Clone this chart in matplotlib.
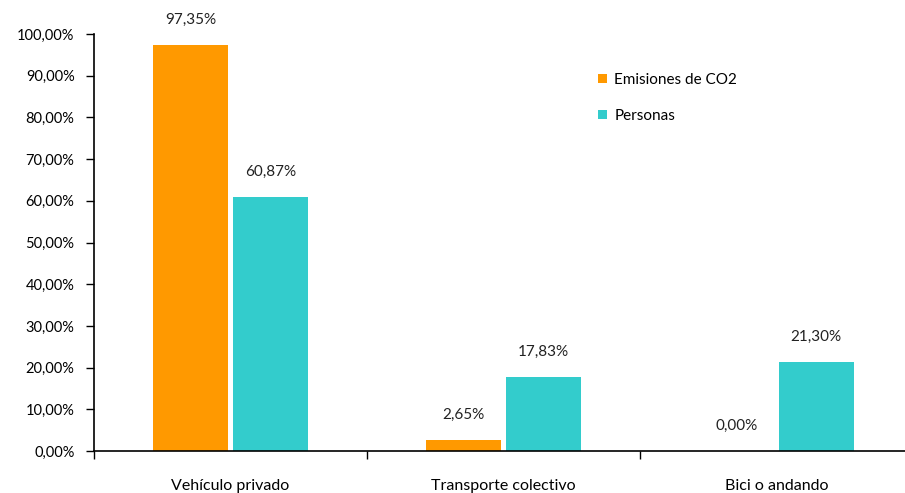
import matplotlib.pyplot as plt
import numpy as np

# data
categories = ["Vehículo privado", "Transporte colectivo", "Bici o andando"]
emisiones = [97.35, 2.65, 0.00]
personas = [60.87, 17.83, 21.30]
y_ticks = [0, 10, 20, 30, 40, 50, 60, 70, 80, 90, 100]

orange = "#FF9900"
teal = "#33CCCC"

plt.rcParams["font.family"] = ["Lato", "DejaVu Sans"]

fig = plt.figure(figsize=(9.05, 4.93), dpi=100)
ax = fig.add_axes([94 / 905, 42 / 493, 819 / 905, 417 / 493])

x = np.arange(len(categories))
w = 0.275
gap = 0.008

b1 = ax.bar(x - w / 2 - gap, emisiones, w, color=orange, label="Emisiones de CO2")
b2 = ax.bar(x + w / 2 + gap, personas, w, color=teal, label="Personas")


def fmt(v):
    return f"{v:.2f}".replace(".", ",") + "%"


for bars, vals in [(b1, emisiones), (b2, personas)]:
    for b, v in zip(bars, vals):
        ax.annotate(fmt(v), (b.get_x() + b.get_width() / 2, v),
                    xytext=(0, 13), textcoords="offset points",
                    ha="center", va="bottom", fontsize=11, color="#222222")

ax.set_xlim(-0.5, 2.5)
ax.set_ylim(0, 100)

ax.set_yticks(y_ticks)
ax.set_yticklabels([fmt(t) for t in y_ticks])

# ticks at category boundaries, labels at centres
ax.set_xticks([-0.5, 0.5, 1.5, 2.5])
ax.set_xticklabels([])
ax.set_xticks(x, minor=True)
ax.set_xticklabels(categories, minor=True)
ax.tick_params(axis="x", which="major", direction="out", length=6, width=1)
ax.tick_params(axis="x", which="minor", length=0, pad=20, labelsize=11.5)
ax.tick_params(axis="y", direction="out", length=6, width=1, pad=8, labelsize=10.5)

for s in ["top", "right"]:
    ax.spines[s].set_visible(False)
ax.spines["left"].set_linewidth(1.2)
ax.spines["bottom"].set_linewidth(1.2)

ax.legend(loc="upper left", bbox_to_anchor=(0.598, 0.94), frameon=False,
          fontsize=11, handlelength=0.6, handleheight=0.6, labelspacing=1.45,
          handletextpad=0.5)

plt.savefig("out.png", dpi=100)
